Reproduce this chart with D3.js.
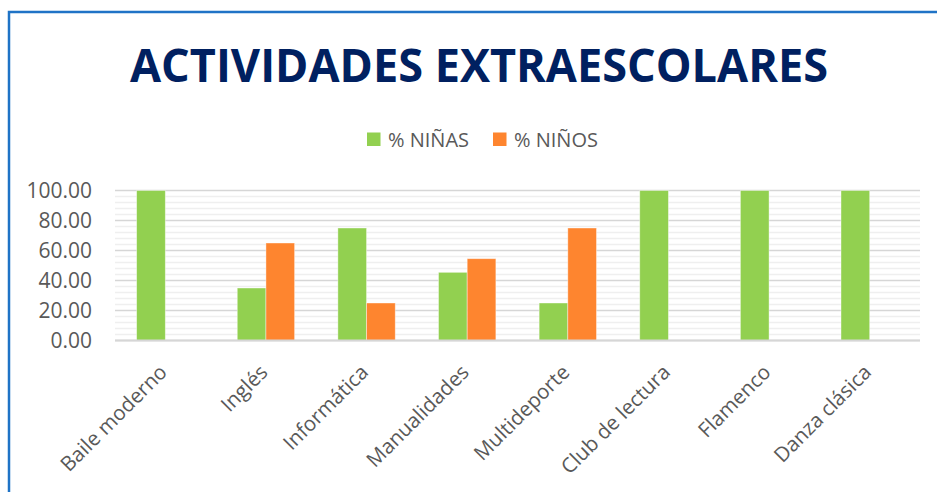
<!DOCTYPE html>
<html><head><meta charset="utf-8">
<script src="https://cdn.jsdelivr.net/npm/d3@7"></script>
<style>html,body{margin:0;padding:0;background:#fff;}svg{display:block;}</style>
</head><body>
<svg id="chart" width="937" height="492"></svg>
<script>
const title = "ACTIVIDADES EXTRAESCOLARES";
const categories = ["Baile moderno","Inglés","Informática","Manualidades","Multideporte","Club de lectura","Flamenco","Danza clásica"];
const seriesNames = ["% NIÑAS","% NIÑOS"];
const ninas = [100, 35, 75, 45.45, 25, 100, 100, 100];
const ninos = [0, 65, 25, 54.55, 75, 0, 0, 0];
const yTicks = [0, 20, 40, 60, 80, 100];
const colors = ["#92D050", "#FE852F"];

const svg = d3.select("#chart");
const W = 937, H = 492;
const m = {left: 115, right: 920, top: 190.5, bottom: 340.5};

// border
svg.append("path").attr("d", `M9,${H} L9,12 L${W},12`).attr("fill","none")
  .attr("stroke","#1F73C6").attr("stroke-width",2.5);

// title
svg.append("text").attr("x", 479).attr("y", 82).attr("text-anchor","middle")
  .attr("font-family","Open Sans").attr("font-weight",700).attr("font-size",46)
  .attr("fill","#002060").attr("textLength",698).attr("lengthAdjust","spacingAndGlyphs")
  .text(title);

const x = d3.scaleBand().domain(categories).range([m.left, m.right]).paddingInner(0.43).paddingOuter(0.215);
const x1 = d3.scaleBand().domain(seriesNames).range([0, x.bandwidth()]);
const y = d3.scaleLinear().domain([0, 100]).range([m.bottom, m.top]);

// minor gridlines
const minor = d3.range(0, 101, 4).filter(v => v % 20 !== 0);
svg.append("g").selectAll("line").data(minor).join("line")
  .attr("x1", m.left).attr("x2", m.right).attr("y1", d => y(d)).attr("y2", d => y(d))
  .attr("stroke","#EFEFEF").attr("stroke-width",1.5);
// major gridlines
svg.append("g").selectAll("line").data(yTicks).join("line")
  .attr("x1", m.left).attr("x2", m.right).attr("y1", d => y(d)).attr("y2", d => y(d))
  .attr("stroke","#D6D6D6").attr("stroke-width",1.6);

// y axis labels
const yAxis = d3.axisLeft(y).tickValues(yTicks).tickFormat(d3.format(".2f")).tickSize(0).tickPadding(0);
const ya = svg.append("g").attr("transform", `translate(92,0)`).call(yAxis);
ya.select(".domain").remove();
ya.selectAll("text").attr("font-family","Open Sans").attr("font-size",21).attr("fill","#595959");

// bars
const data = categories.map((c, i) => ({c, vals: [ninas[i], ninos[i]]}));
const groups = svg.append("g").selectAll("g").data(data).join("g")
  .attr("transform", d => `translate(${x(d.c)},0)`);
groups.selectAll("rect").data(d => d.vals.map((v, j) => ({s: seriesNames[j], v, j})).filter(e => e.v > 0))
  .join("rect")
  .attr("x", e => x1(e.s)).attr("width", x1.bandwidth())
  .attr("y", e => y(e.v)).attr("height", e => y(0) - y(e.v))
  .attr("fill", e => colors[e.j]).attr("stroke","#ffffff").attr("stroke-opacity",0.5).attr("stroke-width",0.8);

// bottom axis line
svg.append("line").attr("x1", m.left).attr("x2", m.right).attr("y1", y(0)).attr("y2", y(0))
  .attr("stroke","#D6D6D6").attr("stroke-width",2);

// x labels
const xAxis = d3.axisBottom(x).tickSize(0).tickPadding(0);
const xa = svg.append("g").attr("transform", `translate(0,${y(0)})`).call(xAxis);
xa.select(".domain").remove();
xa.selectAll("text").attr("font-family","Open Sans").attr("font-size",20.5).attr("fill","#595959")
  .attr("text-anchor","end").attr("dy", null).attr("y", 0)
  .attr("transform","translate(3,33) rotate(-45)");

// legend
const legend = svg.append("g");
const lx = [367, 493];
seriesNames.forEach((s, i) => {
  legend.append("rect").attr("x", lx[i]).attr("y", 132.5).attr("width", 13.5).attr("height", 13.5).attr("fill", colors[i]);
  legend.append("text").attr("x", lx[i] + 21).attr("y", 146.5).attr("font-family","Open Sans")
    .attr("font-size",20).attr("fill","#595959").text(s);
});
</script>
</body></html>
